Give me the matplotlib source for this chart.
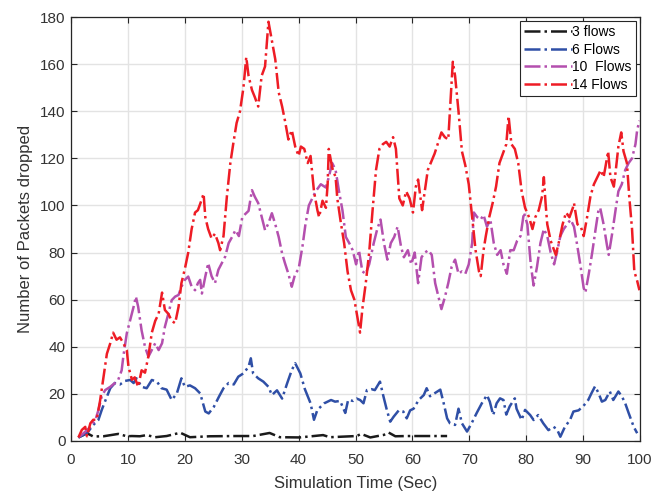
import matplotlib
matplotlib.use("Agg")
import matplotlib.pyplot as plt

plt.rcParams['font.family'] = ['Liberation Sans', 'DejaVu Sans']

# 3 flows
t3 = [1.3, 2.8, 3.9, 5.7, 8.3, 9.8, 10.7, 12.1, 13.3, 14.8, 16.8, 19.2, 20.9, 24.4,
      29.1, 32.0, 34.9, 36.7, 40.2, 44.3, 45.5, 50.2, 51.0, 52.6, 55.0, 55.8, 57.0,
      59.0, 66.1]
y3 = [1.5, 3.3, 1.9, 2.0, 3.0, 2.0, 2.1, 2.0, 2.5, 1.6, 2.1, 3.5, 1.6, 2.0,
      2.1, 2.1, 3.4, 1.6, 1.5, 2.5, 1.6, 2.1, 3.0, 1.5, 2.6, 3.6, 2.0,
      2.1, 2.1]

# 6 flows
t6 = [1.3, 2.8, 3.9, 4.8, 5.4, 6.3, 6.9, 7.7, 8.6, 9.5, 10.4, 11.0, 11.5, 12.4,
      13.3, 14.2, 15.1, 15.9, 16.8, 17.7, 18.6, 19.4, 20.0, 20.9, 21.8, 22.7,
      23.6, 24.2, 25.1, 26.0, 26.8, 27.7, 28.6, 29.4, 30.3, 31.2, 31.6, 32.0,
      32.9, 33.8, 34.7, 35.3, 36.2, 37.1, 38.0, 38.8, 39.4, 40.3, 41.1, 42.1,
      42.7, 43.3, 44.5, 45.7, 46.4, 47.3, 48.2, 48.7, 49.6, 50.2, 50.8, 51.4,
      52.0, 52.8, 53.4, 54.3, 54.9, 55.5, 56.1, 56.7, 57.6, 58.4, 59.0, 59.6,
      60.2, 61.1, 62.0, 62.5, 63.1, 64.0, 64.9, 65.5, 66.1, 66.6, 67.5, 68.1,
      68.7, 69.6, 70.4, 71.3, 72.2, 73.1, 73.6, 74.2, 74.8, 75.4, 76.0, 76.5,
      77.1, 78.0, 78.3, 79.2, 79.8, 80.7, 81.3, 82.1, 83.0, 83.9, 84.8, 85.4,
      86.0, 86.8, 87.7, 88.3, 89.2, 90.0, 90.9, 91.5, 92.1, 92.7, 93.3, 93.9,
      94.7, 95.3, 96.2, 96.8, 97.4, 98.0, 98.9, 99.5]
y6 = [1.5, 3.3, 6.8, 8.9, 13.2, 18.8, 22.4, 24.6, 24.0, 25.5, 25.9, 24.6, 26.6, 23.0,
      22.4, 25.9, 25.2, 22.4, 21.8, 17.4, 20.2, 26.6, 23.0, 23.6, 22.4, 20.2,
      12.5, 11.7, 14.5, 18.8, 22.4, 24.6, 24.0, 27.3, 28.7, 31.5, 35.1, 28.7,
      26.6, 25.2, 23.0, 19.5, 21.5, 18.0, 24.6, 30.1, 33.0, 28.7, 22.0, 16.0,
      9.0, 13.2, 16.0, 17.4, 16.7, 17.0, 11.9, 17.4, 17.0, 18.0, 17.4, 16.0,
      21.6, 22.0, 21.6, 25.2, 19.0, 13.2, 8.2, 10.3, 13.0, 12.5, 9.6, 13.0,
      13.7, 17.4, 19.5, 22.4, 19.0, 20.4, 21.8, 16.0, 9.6, 7.5, 6.8, 13.7,
      7.5, 4.0, 7.5, 11.9, 16.0, 19.5, 16.7, 11.0, 16.0, 18.1, 17.4, 11.2,
      14.7, 18.1, 13.7, 8.9, 13.2, 11.0, 8.9, 11.0, 7.5, 4.6, 6.0, 5.0,
      1.8, 6.0, 8.9, 12.5, 13.0, 14.7, 17.4, 20.4, 23.2, 20.4, 16.7, 17.4,
      21.0, 17.4, 21.0, 19.0, 16.0, 11.9, 6.0, 3.3]

# 10 flows
t10 = [1.3, 2.5, 3.4, 4.3, 4.8, 5.4, 6.0, 6.9, 7.7, 8.3, 8.9, 9.2, 9.8, 10.4,
       11.0, 11.4, 11.8, 12.4, 13.0, 13.6, 14.2, 14.8, 15.4, 16.0, 16.5, 17.1,
       17.7, 18.3, 18.9, 19.4, 20.0, 20.6, 21.2, 21.8, 22.3, 22.7, 23.0, 23.6,
       24.1, 24.7, 25.3, 25.9, 26.5, 27.1, 27.7, 28.3, 28.9, 29.5, 30.1, 30.6,
       31.2, 31.8, 32.3, 32.9, 33.5, 34.1, 34.7, 35.3, 35.9, 36.5, 37.1, 37.6,
       38.2, 38.8, 39.4, 40.0, 40.7, 41.2, 41.8, 42.4, 43.0, 43.9, 44.8, 45.3,
       45.9, 46.5, 47.1, 47.7, 48.3, 48.9, 49.5, 50.1, 50.6, 51.2, 51.8, 52.4,
       53.2, 53.8, 54.4, 55.0, 55.6, 56.2, 56.8, 57.4, 58.0, 58.5, 59.2, 59.8,
       60.4, 61.0, 61.6, 62.2, 62.8, 63.4, 64.0, 64.6, 65.1, 65.7, 66.3, 66.9,
       67.5, 68.1, 68.7, 69.3, 69.9, 70.5, 70.8, 71.4, 72.0, 72.5, 73.1, 73.7,
       74.3, 74.9, 75.5, 76.0, 76.6, 77.2, 77.8, 78.4, 79.0, 79.6, 80.2, 80.8,
       81.3, 81.9, 82.5, 83.1, 83.7, 84.3, 84.9, 85.4, 86.0, 86.6, 87.2, 87.8,
       88.4, 88.9, 89.5, 90.1, 90.4, 91.0, 91.6, 92.2, 92.7, 93.0, 93.6, 94.2,
       94.5, 95.1, 95.7, 96.2, 96.8, 97.4, 98.0, 98.6, 99.2, 99.5, 99.9]
y10 = [1.5, 3.9, 6.0, 9.0, 13.0, 19.0, 21.6, 23.0, 24.6, 26.0, 30.0, 36.0, 45.7, 51.4,
       57.0, 61.3, 57.0, 47.0, 40.0, 35.8, 38.6, 41.5, 38.6, 41.5, 48.5, 54.0,
       59.8, 61.3, 62.0, 65.5, 68.4, 69.8, 65.5, 64.0, 67.0, 68.4, 62.6, 69.8,
       75.5, 70.0, 67.0, 72.7, 75.5, 78.3, 84.0, 86.6, 89.5, 87.0, 95.0, 96.3,
       97.7, 106.5, 103.7, 101.0, 95.2, 89.5, 92.4, 96.7, 92.0, 86.6, 79.6, 75.5,
       71.0, 65.5, 71.0, 73.0, 83.0, 92.0, 100.0, 103.0, 106.0, 109.0, 107.6, 112.0,
       118.0, 115.0, 106.0, 98.0, 86.6, 84.0, 81.0, 75.0, 81.0, 72.0, 71.0, 75.0,
       84.0, 89.8, 94.0, 84.0, 77.0, 84.0, 86.6, 91.0, 82.5, 78.0, 81.0, 75.0,
       80.0, 67.0, 78.0, 80.0, 81.0, 79.0, 67.0, 61.0, 56.0, 61.0, 67.0, 74.0,
       77.0, 71.0, 72.0, 71.0, 75.0, 84.0, 97.0, 95.0, 94.0, 96.0, 91.0, 94.0,
       84.0, 79.0, 81.0, 75.0, 71.0, 81.0, 81.0, 85.0, 87.0, 97.0, 92.0, 75.0,
       66.0, 74.0, 84.0, 90.0, 87.0, 80.0, 75.0, 80.0, 87.0, 90.0, 92.0, 94.0,
       91.0, 84.0, 75.0, 65.0, 63.0, 71.0, 80.0, 90.0, 98.0, 99.0, 92.0, 83.0,
       79.0, 88.0, 98.0, 106.0, 109.0, 115.0, 118.0, 120.0, 126.0, 132.0, 136.0]

# 14 flows
t14 = [1.3, 1.9, 2.5, 2.8, 3.4, 3.9, 4.5, 5.1, 5.7, 6.3, 6.9, 7.4, 8.0, 8.6, 9.2,
       9.8, 10.1, 10.7, 11.2, 11.8, 12.4, 13.0, 13.6, 14.2, 14.8, 15.4, 16.0,
       16.5, 17.1, 17.7, 18.3, 18.9, 19.4, 20.0, 20.6, 21.2, 21.8, 22.3, 22.9,
       23.3, 23.6, 24.1, 24.7, 25.3, 25.9, 26.2, 26.8, 27.4, 28.0, 28.5, 29.1,
       29.7, 30.3, 30.8, 31.2, 31.8, 32.3, 32.9, 33.5, 34.1, 34.7, 35.3, 35.9,
       36.5, 37.1, 37.6, 38.2, 38.8, 39.4, 40.0, 40.4, 41.0, 41.6, 42.1, 42.7,
       43.3, 43.6, 44.2, 44.8, 45.1, 45.3, 45.9, 46.5, 46.8, 47.4, 48.0, 48.6,
       49.2, 49.8, 50.3, 50.8, 51.2, 51.8, 52.4, 53.0, 53.6, 54.2, 54.8, 55.4,
       56.0, 56.6, 57.1, 57.7, 58.3, 58.9, 59.5, 60.1, 60.6, 61.0, 61.7, 62.7,
       63.9, 65.1, 65.7, 66.3, 67.1, 67.5, 68.1, 68.7, 69.3, 69.9, 70.5, 71.1,
       71.7, 72.0, 72.5, 72.9, 73.5, 74.1, 74.7, 75.3, 75.9, 76.5, 76.9, 77.4,
       78.0, 78.6, 79.2, 79.8, 80.5, 81.1, 81.6, 82.2, 82.8, 83.1, 83.4, 83.7,
       84.3, 84.9, 85.2, 85.8, 86.4, 87.0, 87.6, 88.2, 88.4, 89.0, 89.6, 90.1,
       90.7, 91.3, 91.9, 92.5, 93.1, 93.6, 93.9, 94.4, 94.8, 95.4, 95.7, 96.2,
       96.7, 97.1, 97.7, 98.1, 98.6, 99.0, 99.5, 99.9]
y14 = [1.5, 4.7, 6.0, 2.0, 7.5, 9.0, 9.0, 17.0, 27.0, 37.0, 41.5, 46.0, 43.0, 44.0, 41.5,
       38.6, 31.5, 26.0, 27.0, 23.0, 30.0, 29.0, 36.0, 46.0, 51.0, 54.0, 63.0,
       55.6, 54.0, 51.0, 50.0, 57.0, 67.0, 73.0, 80.0, 90.0, 97.0, 98.0, 102.0,
       105.0, 95.0, 90.0, 86.0, 88.0, 84.0, 81.0, 87.0, 104.0, 118.0, 126.0, 135.0,
       140.0, 150.0, 163.0, 155.0, 149.0, 146.0, 142.0, 155.0, 159.0, 178.0, 170.0, 162.0,
       148.0, 142.0, 136.0, 128.0, 132.0, 125.0, 121.0, 125.0, 124.0, 118.0, 121.0, 106.0,
       98.0, 95.0, 102.0, 99.0, 109.0, 124.0, 116.0, 112.0, 103.0, 93.0, 84.0, 72.0,
       64.0, 60.0, 53.0, 46.0, 56.0, 67.0, 80.0, 98.0, 115.0, 124.0, 126.0, 127.0,
       125.0, 129.0, 124.0, 103.0, 100.0, 106.0, 103.0, 97.0, 108.0, 111.0, 98.0, 115.0,
       122.0, 131.0, 129.0, 128.0, 161.0, 155.0, 140.0, 123.0, 117.0, 109.0, 95.0, 81.0,
       72.0, 70.0, 81.0, 87.0, 95.0, 101.0, 108.0, 118.0, 122.0, 126.0, 138.0, 126.0,
       124.0, 118.0, 106.0, 99.0, 95.0, 90.0, 95.0, 98.0, 104.0, 112.0, 101.0, 92.0,
       85.0, 81.0, 79.0, 85.0, 92.0, 97.0, 95.0, 99.0, 101.0, 92.0, 91.0, 87.0,
       95.0, 104.0, 109.0, 112.0, 115.0, 112.0, 116.0, 123.0, 112.0, 108.0, 114.0, 125.0,
       131.0, 123.0, 118.0, 104.0, 90.0, 72.0, 68.0, 64.0]

labels = ["3 flows", "6 Flows", "10  Flows", "14 Flows"]
colors = ["#1a1a1a", "#2f4fa6", "#b44fae", "#ee1c25"]

fig = plt.figure(figsize=(6.54, 4.92), dpi=100)
ax = fig.add_axes([0.1086, 0.1037, 0.8700, 0.8617])

series = [(t3, y3), (t6, y6), (t10, y10), (t14, y14)]
for (t, y), lab, col in zip(series, labels, colors):
    ax.plot(t, y, linestyle='-.', color=col, linewidth=1.8, label=lab)

ax.set_xlim(0, 100)
ax.set_ylim(0, 180)
ax.set_xticks(range(0, 101, 10))
ax.set_yticks(range(0, 181, 20))
ax.grid(True, color='#e3e3e3', linewidth=1.0)
ax.set_axisbelow(True)
for s in ax.spines.values():
    s.set_color('#262626')
    s.set_linewidth(0.9)
ax.tick_params(direction='in', top=True, right=True, length=4,
               color='#262626', labelcolor='#333333', labelsize=11)
ax.tick_params(axis='x', pad=9)
ax.tick_params(axis='y', pad=4)
ax.set_xlabel("Simulation Time (Sec)", fontsize=12, color='#333333', labelpad=6)
ax.set_ylabel("Number of Packets dropped", fontsize=12, color='#333333', labelpad=5)

leg = ax.legend(loc='upper right', fontsize=10, handlelength=3.4, handletextpad=0.05,
                borderpad=0.3, labelspacing=0.25, fancybox=False, framealpha=1,
                borderaxespad=0.3)
leg.get_frame().set_edgecolor('#262626')
leg.get_frame().set_linewidth(0.8)

fig.savefig("out.png", dpi=100)
